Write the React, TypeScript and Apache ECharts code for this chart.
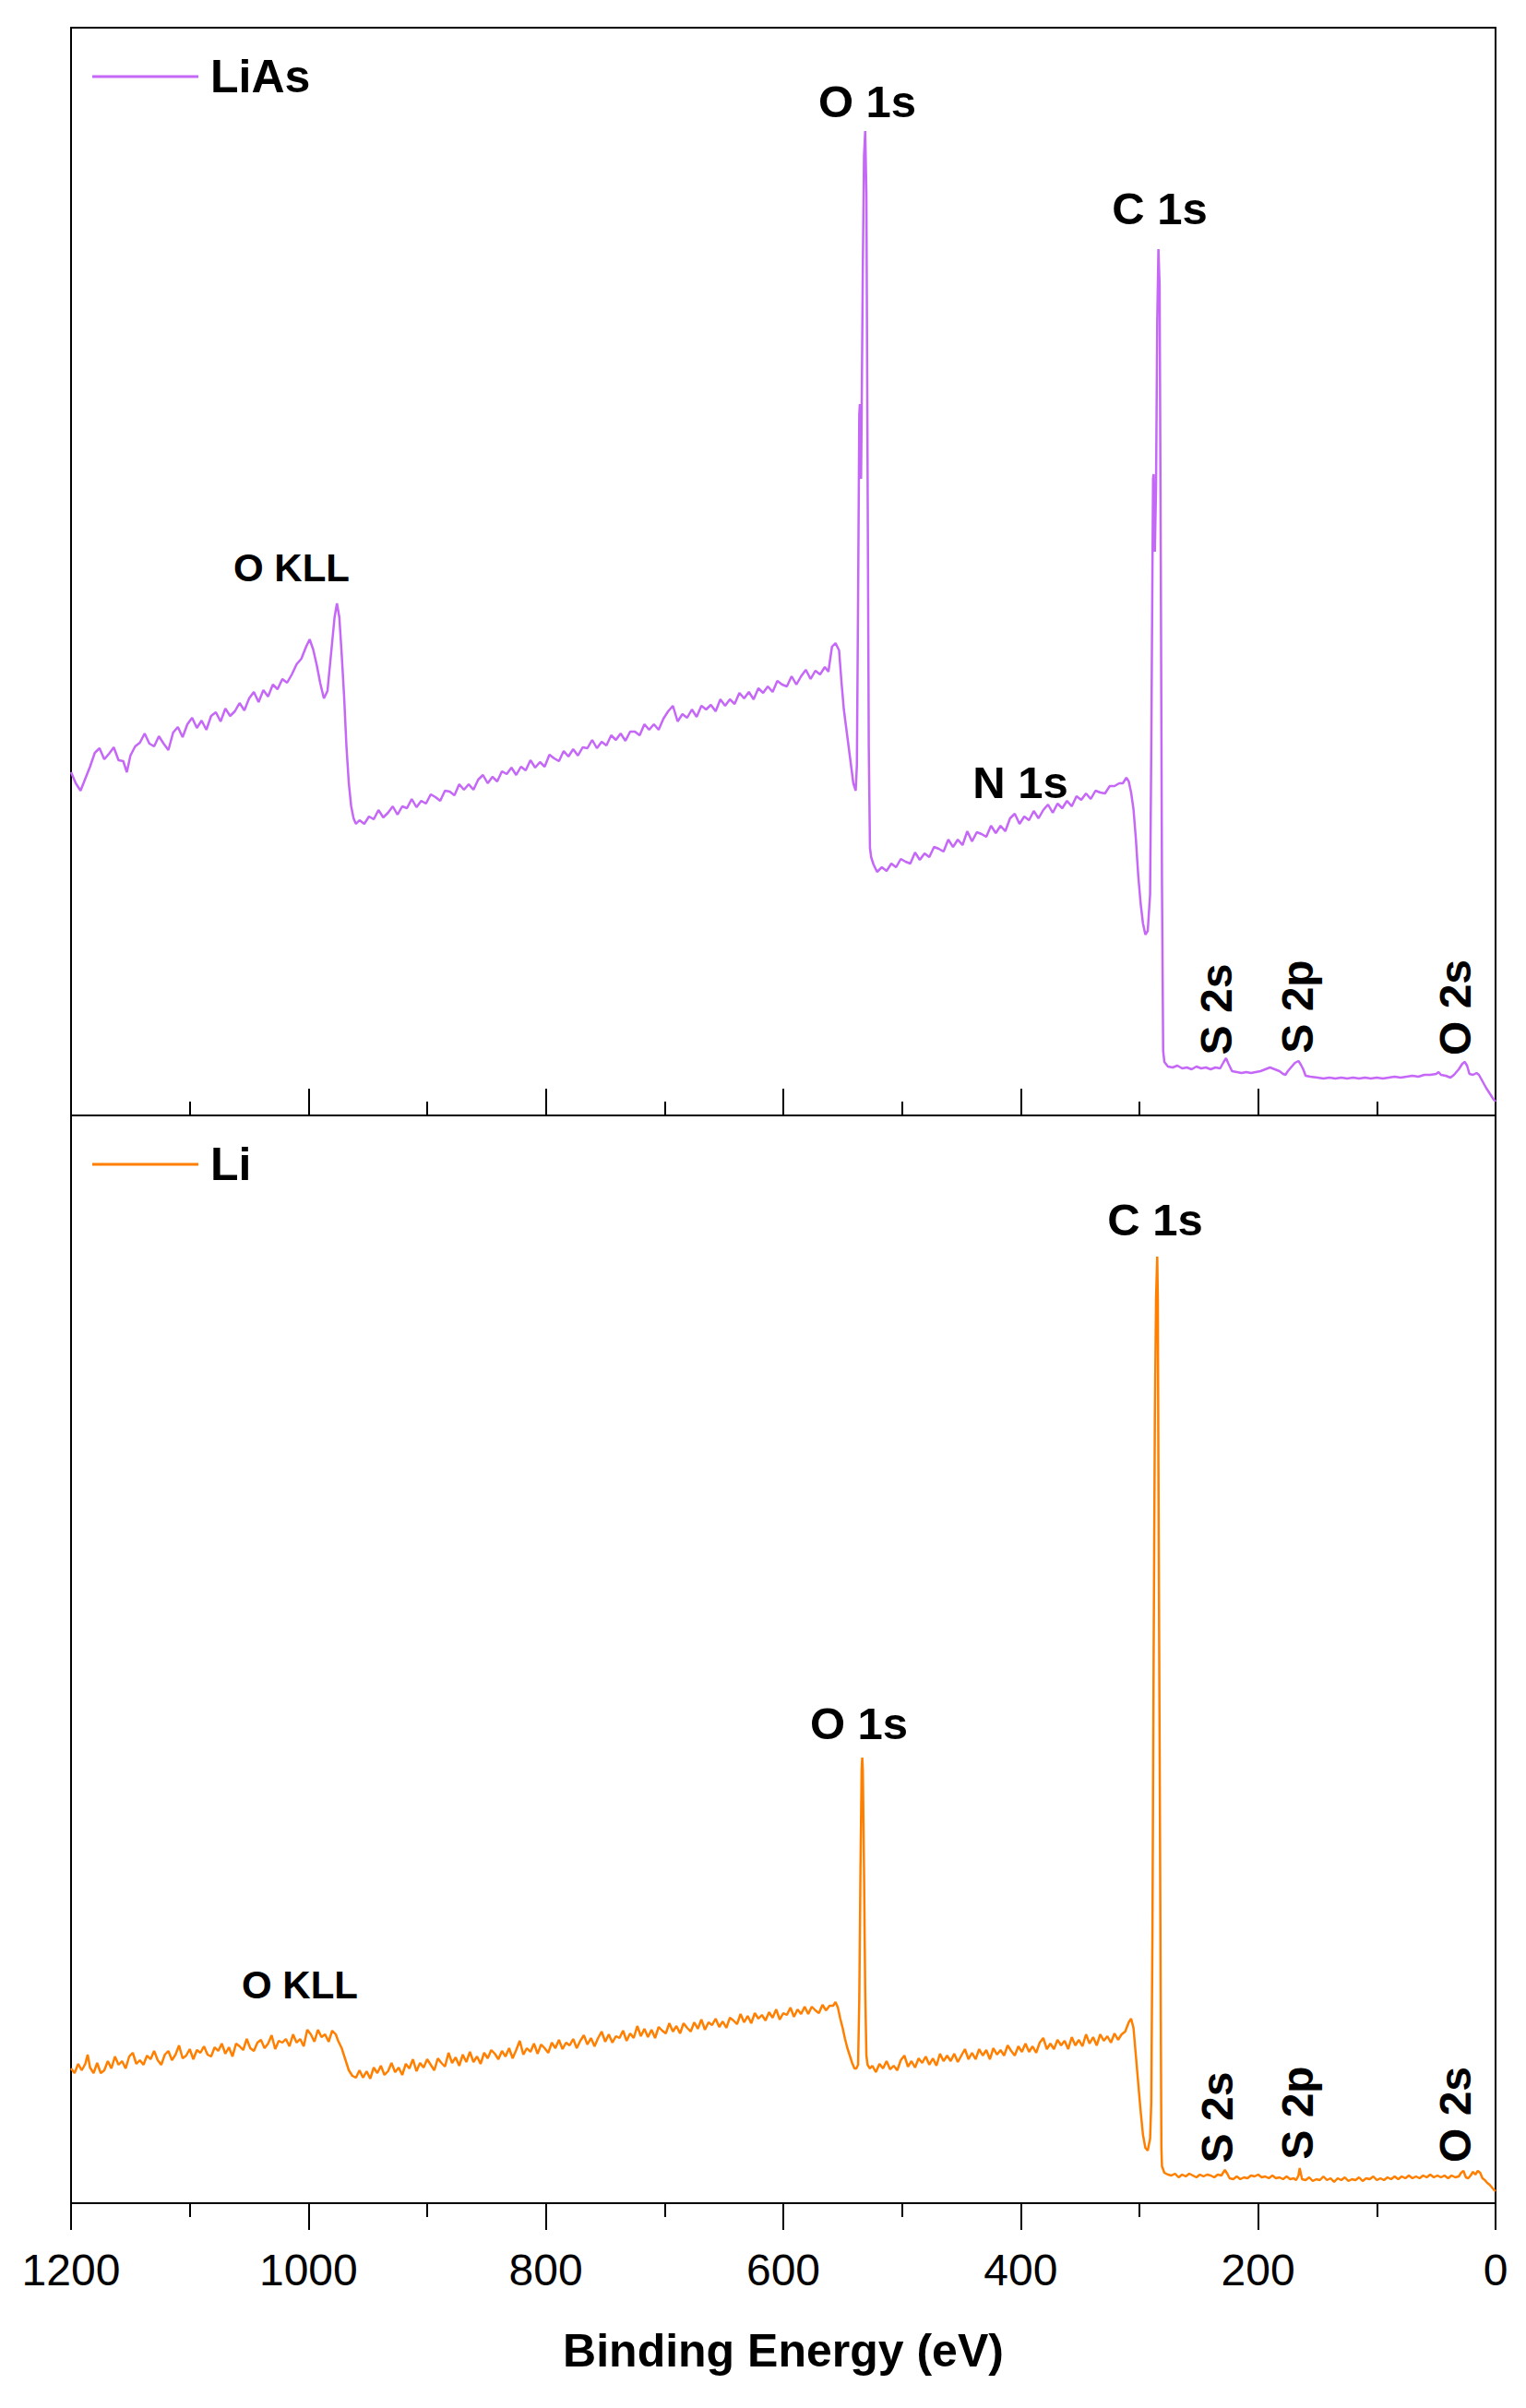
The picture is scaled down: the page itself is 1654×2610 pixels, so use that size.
import React, { useEffect, useRef } from "react";
import * as echarts from "echarts";

// ---------------- DATA (Binding energy eV, intensity a.u.) ----------------
const xTickValues = [1200, 1000, 800, 600, 400, 200, 0];

const liasSpectrum: [number, number][] = [
  [1200, 372], [1196, 360], [1192, 352], [1188, 365], [1184, 378], [1180, 393], [1176, 398], [1172, 386],
  [1168, 392], [1164, 399], [1160, 385], [1156, 384], [1153, 372], [1150, 390], [1146, 400], [1142, 404],
  [1138, 414], [1134, 403], [1130, 400], [1126, 411], [1122, 403], [1118, 396], [1114, 415], [1110, 421],
  [1106, 410], [1102, 424], [1098, 431], [1094, 420], [1090, 428], [1086, 418], [1082, 433], [1078, 437],
  [1074, 427], [1070, 441], [1066, 433], [1062, 438], [1058, 447], [1054, 439], [1050, 452], [1046, 459],
  [1042, 448], [1038, 461], [1034, 454], [1030, 467], [1026, 462], [1022, 473], [1018, 469], [1014, 478],
  [1010, 489], [1006, 495], [1002, 508], [999, 516], [996, 505], [993, 488], [990, 468], [987, 452],
  [984, 460], [981, 500], [978, 540], [976, 555], [974, 540], [972, 500], [970, 455], [968, 400],
  [966, 360], [964, 335], [962, 322], [960, 316], [957, 320], [953, 316], [949, 324], [945, 321],
  [941, 331], [937, 323], [933, 328], [929, 335], [925, 326], [921, 335], [917, 333], [913, 343],
  [909, 334], [905, 341], [901, 338], [897, 348], [893, 345], [889, 341], [885, 352], [881, 351],
  [877, 347], [873, 359], [869, 353], [865, 359], [861, 353], [857, 364], [853, 369], [849, 360],
  [845, 367], [841, 362], [837, 373], [833, 370], [829, 377], [825, 369], [821, 378], [817, 374],
  [813, 385], [809, 377], [805, 383], [801, 378], [797, 391], [793, 387], [789, 384], [785, 395],
  [781, 389], [777, 397], [773, 390], [769, 399], [765, 398], [761, 407], [757, 398], [753, 405],
  [749, 401], [745, 412], [741, 407], [737, 414], [733, 406], [729, 416], [725, 416], [721, 412],
  [717, 424], [713, 418], [709, 424], [705, 418], [701, 430], [697, 438], [693, 444], [689, 427],
  [685, 435], [681, 431], [677, 440], [673, 432], [669, 444], [665, 440], [661, 445], [657, 438],
  [653, 451], [649, 444], [645, 451], [641, 446], [637, 458], [633, 452], [629, 459], [625, 451],
  [621, 463], [617, 458], [613, 465], [609, 459], [605, 471], [601, 467], [597, 465], [593, 476],
  [589, 467], [585, 476], [581, 483], [577, 473], [573, 482], [569, 478], [565, 486], [562, 481],
  [559, 508], [556, 512], [553, 504], [551, 470], [549, 440], [546, 410], [543, 380], [541, 360],
  [539, 352], [538, 380], [537, 560], [536, 760], [535.5, 771], [535, 700], [534.5, 690], [534, 760],
  [533, 920], [532, 1040], [531, 1067], [530, 1000], [529, 700], [528, 400], [527, 290], [526, 280],
  [524, 272], [521, 264], [517, 269], [513, 265], [509, 273], [505, 269], [501, 278], [497, 275],
  [493, 273], [489, 285], [485, 277], [481, 284], [477, 280], [473, 291], [469, 289], [465, 286],
  [461, 299], [457, 291], [453, 299], [449, 293], [445, 308], [441, 297], [437, 307], [433, 305],
  [429, 302], [425, 314], [421, 306], [417, 314], [413, 308], [409, 322], [405, 327], [401, 316],
  [397, 324], [393, 320], [389, 330], [385, 322], [381, 331], [377, 337], [373, 328], [369, 338],
  [365, 333], [361, 341], [357, 335], [353, 346], [349, 342], [345, 349], [341, 343], [337, 352],
  [333, 350], [329, 349], [325, 357], [321, 357], [317, 360], [314, 360], [311, 366], [309, 362],
  [307, 350], [305, 332], [303, 300], [301, 260], [299, 230], [297, 208], [295, 196], [293, 200],
  [291, 240], [290, 400], [289, 600], [288.5, 690], [288, 695], [287.5, 620], [287, 611], [286, 680],
  [285, 860], [284, 939], [283, 900], [282, 600], [281, 250], [280, 70], [279, 58], [276, 53],
  [272, 52], [268, 54], [264, 51], [260, 52], [256, 50], [252, 53], [248, 51], [244, 52],
  [240, 50], [236, 52], [232, 51], [229, 58], [227, 62], [225, 56], [222, 48], [218, 47],
  [214, 46], [210, 47], [206, 46], [202, 47], [198, 48], [194, 50], [190, 52], [186, 50],
  [182, 48], [179, 45], [177, 44], [175, 48], [169, 57], [166, 59], [164, 55], [162, 50],
  [160, 43], [156, 42], [150, 41], [145, 40], [140, 41], [135, 40], [130, 41], [125, 40],
  [120, 41], [115, 40], [110, 41], [105, 40], [100, 41], [95, 40], [90, 41], [85, 42],
  [80, 41], [75, 42], [70, 43], [65, 42], [60, 44], [55, 44], [50, 45], [48, 47],
  [46, 44], [42, 43], [38, 41], [35, 44], [31, 50], [28, 56], [26, 58], [24, 54],
  [22, 45], [19, 44], [16, 46], [14, 44], [11, 37], [8, 30], [5, 24], [2, 18], [0, 15],
];

const liSpectrum: [number, number][] = [
  [1200, 146], [1197, 141], [1194, 151], [1191, 144], [1188, 151], [1186, 161], [1184, 147], [1181, 141],
  [1178, 152], [1175, 141], [1172, 144], [1169, 154], [1166, 146], [1163, 159], [1160, 150], [1157, 154],
  [1154, 146], [1151, 159], [1148, 163], [1145, 151], [1142, 155], [1139, 150], [1136, 160], [1133, 156],
  [1130, 165], [1127, 155], [1124, 150], [1121, 161], [1118, 165], [1115, 155], [1112, 161], [1109, 171],
  [1106, 157], [1103, 160], [1100, 167], [1097, 156], [1094, 166], [1091, 163], [1088, 170], [1085, 161],
  [1082, 159], [1079, 169], [1076, 165], [1073, 173], [1070, 162], [1067, 169], [1064, 159], [1061, 173],
  [1058, 170], [1055, 166], [1052, 178], [1049, 168], [1046, 165], [1043, 174], [1040, 177], [1037, 168],
  [1034, 173], [1031, 182], [1028, 167], [1025, 176], [1022, 174], [1019, 178], [1016, 170], [1013, 183],
  [1010, 174], [1007, 178], [1004, 170], [1001, 188], [998, 183], [995, 175], [992, 188], [989, 180],
  [986, 183], [983, 175], [980, 187], [977, 183], [975, 176], [972, 168], [969, 156], [966, 144],
  [963, 138], [960, 136], [957, 144], [954, 136], [951, 143], [948, 135], [945, 147], [942, 141],
  [939, 149], [936, 139], [933, 143], [930, 152], [927, 142], [924, 147], [921, 139], [918, 151],
  [915, 146], [912, 156], [909, 143], [906, 152], [903, 147], [900, 156], [897, 150], [894, 144],
  [891, 157], [888, 152], [885, 148], [882, 163], [879, 152], [876, 158], [873, 149], [870, 161],
  [867, 153], [864, 164], [861, 153], [858, 159], [855, 151], [852, 163], [849, 157], [846, 166],
  [843, 162], [840, 156], [837, 165], [834, 159], [831, 168], [828, 157], [825, 166], [822, 176],
  [819, 161], [816, 168], [813, 164], [810, 173], [807, 162], [804, 172], [801, 168], [798, 163],
  [795, 174], [792, 168], [789, 177], [786, 167], [783, 174], [780, 171], [777, 178], [774, 168],
  [771, 176], [768, 182], [765, 172], [762, 179], [759, 170], [756, 179], [753, 186], [750, 175],
  [747, 183], [744, 174], [741, 181], [738, 179], [735, 187], [732, 176], [729, 184], [726, 179],
  [723, 192], [720, 181], [717, 189], [714, 180], [711, 188], [708, 179], [705, 191], [702, 187],
  [699, 184], [696, 195], [693, 186], [690, 192], [687, 184], [684, 195], [681, 190], [678, 186],
  [675, 196], [672, 189], [669, 199], [666, 188], [663, 196], [660, 193], [657, 200], [654, 191],
  [651, 197], [648, 190], [645, 201], [642, 198], [639, 194], [636, 205], [633, 196], [630, 203],
  [627, 195], [624, 206], [621, 200], [618, 204], [615, 198], [612, 207], [609, 201], [606, 210],
  [603, 199], [600, 206], [597, 204], [594, 212], [591, 202], [588, 210], [585, 205], [582, 213],
  [579, 205], [576, 213], [573, 209], [570, 206], [567, 215], [564, 209], [561, 214], [558, 214],
  [556, 218], [554, 212], [552, 200], [550, 190], [548, 178], [546, 168], [544, 160], [542, 152],
  [540, 146], [538.5, 146], [537, 150], [536, 220], [535, 360], [534, 470], [533.5, 483], [533, 470],
  [532, 360], [531, 230], [530, 160], [529, 150], [527, 146], [525, 149], [522, 142], [519, 151],
  [516, 146], [513, 154], [510, 145], [507, 149], [504, 144], [501, 155], [498, 160], [495, 148],
  [492, 154], [489, 147], [486, 157], [483, 152], [480, 159], [477, 150], [474, 157], [471, 149],
  [468, 162], [465, 154], [462, 160], [459, 154], [456, 162], [453, 153], [450, 160], [447, 167],
  [444, 156], [441, 163], [438, 156], [435, 167], [432, 160], [429, 166], [426, 156], [423, 168],
  [420, 161], [417, 166], [414, 160], [411, 171], [408, 165], [405, 160], [402, 170], [399, 164],
  [396, 173], [393, 164], [390, 170], [387, 163], [384, 174], [381, 179], [378, 167], [375, 173],
  [372, 167], [369, 177], [366, 171], [363, 176], [360, 167], [357, 180], [354, 171], [351, 177],
  [348, 170], [345, 183], [342, 173], [339, 180], [336, 171], [333, 183], [330, 176], [327, 181],
  [324, 174], [321, 184], [318, 177], [315, 183], [312, 186], [309, 196], [307, 200], [305, 190],
  [303, 160], [301, 130], [299, 100], [297, 74], [295, 60], [293, 57], [291, 70], [290, 110],
  [289, 300], [288, 600], [287, 850], [286, 980], [285, 1026], [284.5, 980], [284, 800], [283, 500],
  [282, 200], [281.5, 60], [281, 40], [279, 33], [276, 31], [273, 30], [270, 32], [267, 28],
  [264, 31], [261, 29], [258, 32], [255, 30], [252, 28], [249, 31], [246, 29], [243, 31],
  [240, 30], [237, 28], [234, 31], [231, 30], [229, 34], [228, 36], [226, 32], [224, 27],
  [221, 26], [218, 29], [215, 26], [212, 28], [209, 27], [206, 30], [203, 29], [200, 31],
  [197, 28], [194, 29], [191, 27], [188, 30], [185, 27], [182, 28], [179, 26], [176, 29],
  [173, 26], [170, 27], [168, 25], [166, 30], [165, 38], [164, 32], [163, 26], [160, 25],
  [157, 28], [154, 24], [151, 26], [148, 25], [145, 29], [142, 25], [139, 27], [136, 23],
  [133, 27], [130, 25], [127, 28], [124, 24], [121, 26], [118, 25], [115, 28], [112, 24],
  [109, 27], [106, 26], [103, 29], [100, 25], [97, 27], [94, 25], [91, 28], [88, 26],
  [85, 29], [82, 26], [79, 29], [76, 27], [73, 30], [70, 27], [67, 29], [64, 27],
  [61, 30], [58, 28], [55, 31], [52, 28], [49, 30], [46, 28], [43, 30], [40, 27],
  [37, 30], [34, 28], [31, 29], [29, 33], [27, 35], [25, 28], [23, 27], [21, 30],
  [19, 34], [17, 31], [15, 35], [13, 33], [11, 27], [9, 25], [7, 22], [5, 20],
  [3, 17], [1, 14], [0, 13],
];

const seriesNames = ["LiAs", "Li"];
const seriesColors = ["#C567F7", "#FF7F00"];

// annotation labels: [text, centerX px, centerY px, fontSize, vertical]
const peakLabels: [string, number, number, number, boolean][] = [
  ["O 1s", 940, 110, 49, false],
  ["C 1s", 1257, 226, 49, false],
  ["O KLL", 316, 615, 42, false],
  ["N 1s", 1106, 848, 49, false],
  ["S 2s", 1318, 1094, 48, true],
  ["S 2p", 1406, 1091, 48, true],
  ["O 2s", 1577, 1092, 48, true],
  ["C 1s", 1252, 1322, 49, false],
  ["O 1s", 931, 1868, 49, false],
  ["O KLL", 325, 2151, 42, false],
  ["S 2s", 1319, 2295, 48, true],
  ["S 2p", 1406, 2290, 48, true],
  ["O 2s", 1577, 2292, 48, true],
];

const FONT = "'Liberation Sans', Arial, Helvetica, sans-serif";

export default function App() {
  const ref = useRef<HTMLDivElement>(null);
  useEffect(() => {
    document.body.style.margin = "0";
    if (!ref.current) return;
    const chart = echarts.init(ref.current, null, { renderer: "svg" });
    const gridL = 77, gridW = 1544, gridH = 1179;
    const xAxisBase = (idx: number, showLabels: boolean) => ({
      type: "value",
      gridIndex: idx,
      min: 0,
      max: 1200,
      interval: 200,
      inverse: true,
      splitLine: { show: false },
      axisLine: { show: true, onZero: false, lineStyle: { color: "#000", width: 2 } },
      axisTick: { show: true, inside: !showLabels, length: 29, lineStyle: { color: "#000", width: 2 } },
      minorTick: { show: true, splitNumber: 2, length: 15, lineStyle: { color: "#000", width: 2 } },
      minorSplitLine: { show: false },
      axisLabel: {
        show: showLabels,
        fontSize: 48,
        color: "#000",
        fontFamily: FONT,
        margin: 48,
        formatter: (v: number) => (xTickValues.includes(v) ? String(v) : ""),
      },
      name: showLabels ? "Binding Energy (eV)" : "",
      nameLocation: "middle",
      nameGap: 135,
      nameTextStyle: { fontSize: 50, fontWeight: "bold", color: "#000", fontFamily: FONT },
    });
    const yAxisBase = (idx: number) => ({
      type: "value",
      gridIndex: idx,
      min: 0,
      max: gridH,
      show: false,
      splitLine: { show: false },
    });
    const legendBase = (name: string, top: number) => ({
      data: [name],
      left: 100,
      top,
      icon: "rect",
      itemWidth: 115,
      itemHeight: 3,
      selectedMode: false,
      padding: 0,
      textStyle: { fontSize: 50, fontWeight: "bold", color: "#000", fontFamily: FONT, padding: [0, 0, 0, 8] },
    });
    const graphics = peakLabels.map(([t, x, y, fs, vertical]) => ({
      type: "text",
      x,
      y,
      rotation: vertical ? Math.PI / 2 : 0,
      style: {
        text: t,
        fill: "#000",
        font: `bold ${fs}px ${FONT}`,
        align: "center",
        verticalAlign: "middle",
      },
    }));
    chart.setOption({
      animation: false,
      backgroundColor: "#fff",
      grid: [
        { left: gridL, top: 30, width: gridW, height: gridH, show: true, borderColor: "#000", borderWidth: 2, backgroundColor: "transparent" },
        { left: gridL, top: 30 + gridH, width: gridW, height: gridH, show: true, borderColor: "#000", borderWidth: 2, backgroundColor: "transparent" },
      ],
      xAxis: [xAxisBase(0, false), xAxisBase(1, true)],
      yAxis: [yAxisBase(0), yAxisBase(1)],
      legend: [legendBase(seriesNames[0], 58), legendBase(seriesNames[1], 1237)],
      series: [
        {
          name: seriesNames[0],
          type: "line",
          xAxisIndex: 0,
          yAxisIndex: 0,
          data: liasSpectrum,
          showSymbol: false,
          symbol: "none",
          color: seriesColors[0],
          lineStyle: { color: seriesColors[0], width: 2.5 },
        },
        {
          name: seriesNames[1],
          type: "line",
          xAxisIndex: 1,
          yAxisIndex: 1,
          data: liSpectrum,
          showSymbol: false,
          symbol: "none",
          color: seriesColors[1],
          lineStyle: { color: seriesColors[1], width: 2.5 },
        },
      ],
      graphic: graphics,
    });
    return () => chart.dispose();
  }, []);
  return <div ref={ref} style={{ width: 1654, height: 2610 }} />;
}
